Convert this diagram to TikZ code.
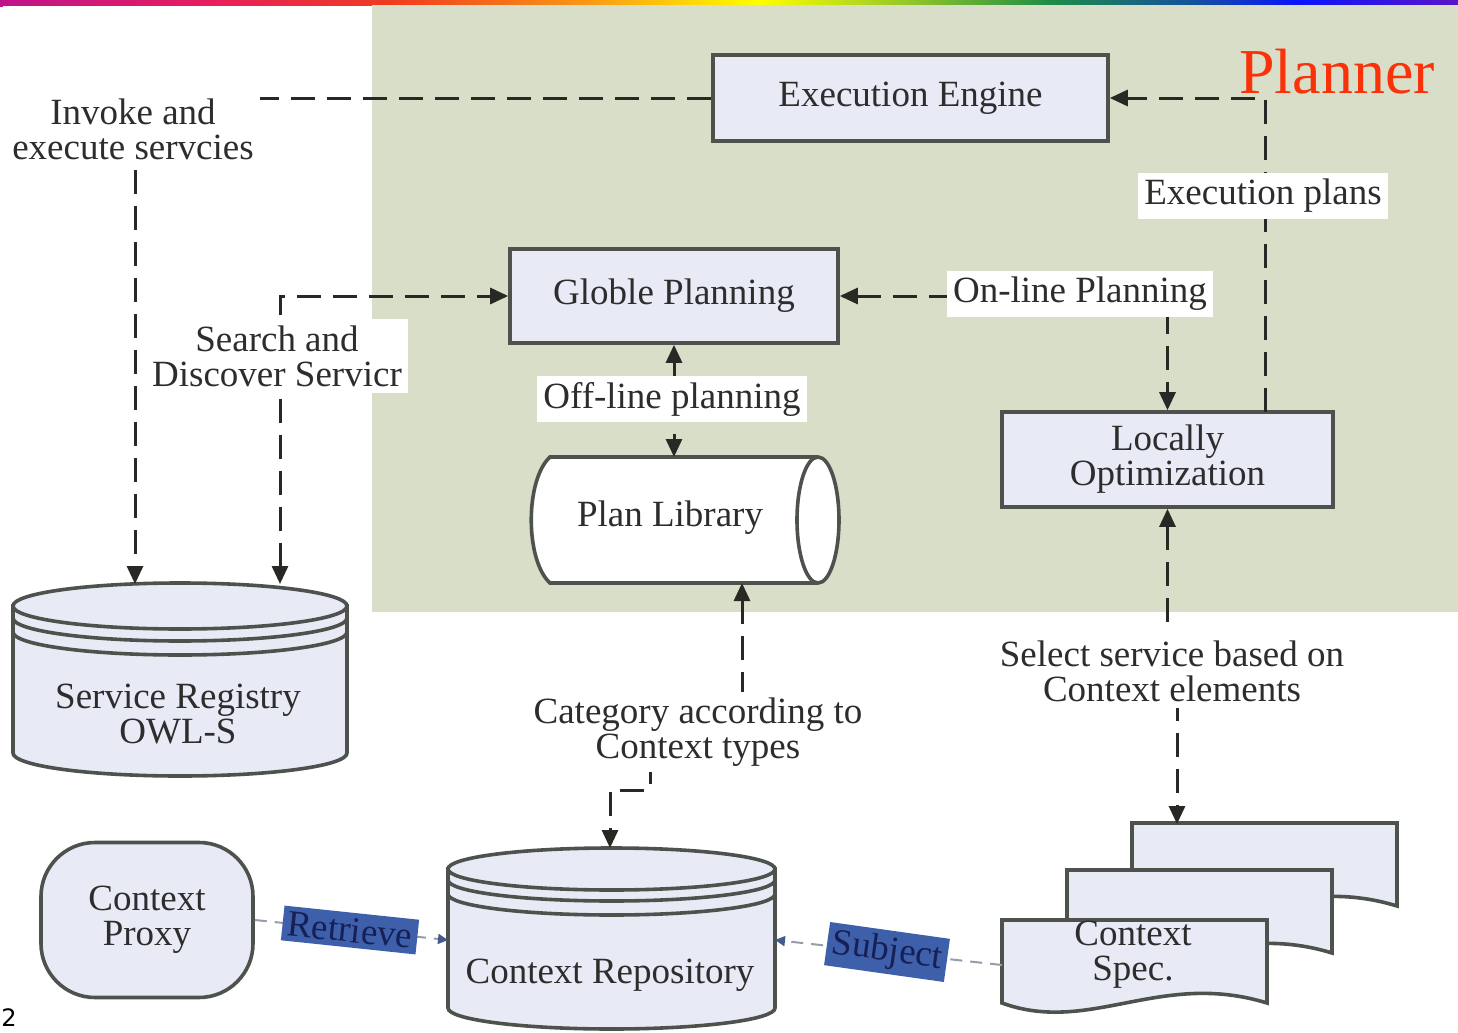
\documentclass[tikz,border=0pt]{standalone}
\usepackage{fontspec}
\setmainfont{Liberation Serif}
\newfontfamily\numfont{DejaVu Sans}
\usetikzlibrary{arrows.meta}

\definecolor{panel}{RGB}{217,222,200}
\definecolor{boxfill}{RGB}{232,235,246}
\definecolor{boxline}{RGB}{78,82,76}
\definecolor{wirecol}{RGB}{40,40,36}
\definecolor{ink}{RGB}{45,45,45}
\definecolor{plannerred}{RGB}{250,50,10}
\definecolor{tagfill}{RGB}{62,96,170}
\definecolor{tagink}{RGB}{22,32,86}
\definecolor{faintwire}{RGB}{150,156,172}
\definecolor{fainttip}{RGB}{70,90,140}
% colours of the title bar gradient
\definecolor{r1}{RGB}{190,20,140}
\definecolor{r2}{RGB}{230,30,95}
\definecolor{r3}{RGB}{240,60,30}
\definecolor{r4}{RGB}{250,150,20}
\definecolor{r5}{RGB}{255,255,0}
\definecolor{r6}{RGB}{150,200,40}
\definecolor{r7}{RGB}{30,140,70}
\definecolor{r8}{RGB}{20,80,160}
\definecolor{r9}{RGB}{10,20,250}
\definecolor{r10}{RGB}{90,20,200}
% TikZ fits the middle 25bp--75bp of a shading to the shaded path
\pgfdeclarehorizontalshading{rainbowbar}{100bp}{color(0bp)=(r1); color(25bp)=(r1); color(32bp)=(r2); color(38.5bp)=(r3); color(45bp)=(r4); color(51bp)=(r5); color(56bp)=(r6); color(61bp)=(r7); color(66bp)=(r8); color(69.5bp)=(r9); color(75bp)=(r10); color(100bp)=(r10)}

\newcommand\lblfont{\fontsize{18.5}{17.5}\selectfont}

\tikzset{
  procbox/.style={draw=boxline, line width=1.8pt, fill=boxfill, text=ink,
    font=\lblfont, align=center, inner sep=0pt},
  shapeline/.style={draw=boxline, line width=1.8pt},
  txt/.style={text=ink, font=\lblfont, align=center, inner sep=0pt},
  lbl/.style={fill=white, text=ink, font=\lblfont, align=center, inner sep=3pt},
  wire/.style={draw=wirecol, line width=1.5pt, dash pattern=on 12pt off 6pt},
  thinwire/.style={draw=faintwire, line width=1pt, dash pattern=on 6pt off 4pt,
    -{Triangle[length=5pt,width=5pt,color=fainttip]}},
  tag/.style={fill=tagfill, text=tagink, font=\lblfont, inner sep=2.5pt}
}

\begin{document}
\begin{tikzpicture}[x=0.5pt,y=-0.5pt, >={Triangle[length=9pt,width=8pt]}]
\useasboundingbox (0,0) rectangle (1458,1033);
\fill[white] (0,0) rectangle (1458,1033);

% title bar and planner panel
\shade[shading=rainbowbar] (0,0) rectangle (1458,5);
\fill[r1] (0,0) rectangle (3,7);
\fill[panel] (372,5) rectangle (1458,612);

\node[text=plannerred, font=\fontsize{32}{34}\selectfont, inner sep=0pt] (planner) at (1337,72) {Planner};

% planner boxes
\node[procbox, minimum width=197.5pt, minimum height=43pt] (ee) at (910.5,98) {Execution Engine};
\node[procbox, minimum width=164pt, minimum height=47pt] (gp) at (674,296) {Globle Planning};
\node[procbox, minimum width=165.5pt, minimum height=47.5pt] (lo) at (1167.5,459.5) {Locally\\Optimization};

% plan library (horizontal cylinder)
\path[shapeline, fill=white] (818,457) -- (550,457) .. controls (525,480) and (525,560) .. (550,583) -- (818,583);
\path[shapeline, fill=white] (818,520) ellipse [x radius=10.5pt, y radius=31.5pt];
\node[txt] (pl) at (670,518) {Plan Library};
\coordinate (plT) at (674,457);
\coordinate (plB) at (742,583);

% service registry (cylinder)
\path[shapeline, fill=boxfill] (13,606) -- (13,753) arc[start angle=180, end angle=360, x radius=83.5pt, y radius=11.5pt] -- (347,606) -- cycle;
\path[shapeline, fill=boxfill] (180,606) ellipse [x radius=83.5pt, y radius=11.5pt];
\draw[shapeline] (13,618) arc[start angle=180, end angle=360, x radius=83.5pt, y radius=11.5pt];
\draw[shapeline] (13,632) arc[start angle=180, end angle=360, x radius=83.5pt, y radius=11.5pt];
\node[txt] (sr) at (178,714) {Service Registry\\OWL-S};
\coordinate (srA) at (135,584);
\coordinate (srB) at (280,584);

% context repository (cylinder)
\path[shapeline, fill=boxfill] (448,869) -- (448,1008) arc[start angle=180, end angle=360, x radius=81.75pt, y radius=10.5pt] -- (775,869) -- cycle;
\path[shapeline, fill=boxfill] (611.5,869) ellipse [x radius=81.75pt, y radius=10.5pt];
\draw[shapeline] (448,880) arc[start angle=180, end angle=360, x radius=81.75pt, y radius=10.5pt];
\draw[shapeline] (448,894) arc[start angle=180, end angle=360, x radius=81.75pt, y radius=10.5pt];
\node[txt] (cr) at (610,975) {Context Repository};
\coordinate (crT) at (610,848);
\coordinate (crW) at (448,940);
\coordinate (crE) at (775,940);

% context proxy
\node[procbox, rounded corners=27pt, minimum width=106pt, minimum height=77.5pt] (cp) at (147,920) {Context\\Proxy};

% stack of context specification documents
\foreach \dx/\dy in {130/-97, 65/-50, 0/0} {
  \path[shapeline, fill=boxfill, shift={(\dx,\dy)}]
    (1002,1003) -- (1002,920) -- (1267,920) -- (1267,1003)
    .. controls (1160,970) and (1090,1035) .. (1002,1003) -- cycle;
}
\node[txt] (spec) at (1133,955) {Context\\Spec.};
\coordinate (docT) at (1177,824);
\coordinate (dsW) at (1002,965);
\coordinate (loR) at (1265,412);

% connectors
\draw[wire, ->] (ee.west) -| (srA);
\draw[wire, <->] (srB) |- (gp.west);
\draw[wire, ->] (loR) |- (ee.east);
\draw[wire, <->] (gp.east) -| (lo.north);
\draw[wire, <->] (gp.south) -- (plT);
\draw[wire, <->] (plB) -- (742,745) -- (650,745) -- (650,790) -- (610,790) -- (crT);
\draw[wire, <->] (lo.south) -- (1167.5,672) -- (1177,672) -- (docT);
\draw[thinwire] (cp.east) -- (crW);
\draw[thinwire] (dsW) -- (crE);

% connector labels
\node[lbl] (invoke) at (133,129) {Invoke and\\execute servcies};
\node[lbl] (search) at (277,356) {Search and\\Discover Servicr};
\node[lbl] (execplans) at (1263,196) {Execution plans};
\node[lbl] (online) at (1080,294) {On-line Planning};
\node[lbl] (offline) at (672,399) {Off-line planning};
\node[lbl] (category) at (698,732) {Category according to\\Context types};
\node[lbl] (select) at (1172,671) {Select service based on\\Context elements};
\node[tag, rotate=-6] (retrieve) at (350,930) {Retrieve};
\node[tag, rotate=-8] (subject) at (887,952) {Subject};

% page number
\node[font=\numfont\fontsize{12}{13}\selectfont, text=black, anchor=west, inner sep=0pt] (pagenum) at (1,1018) {2};
\end{tikzpicture}
\end{document}
